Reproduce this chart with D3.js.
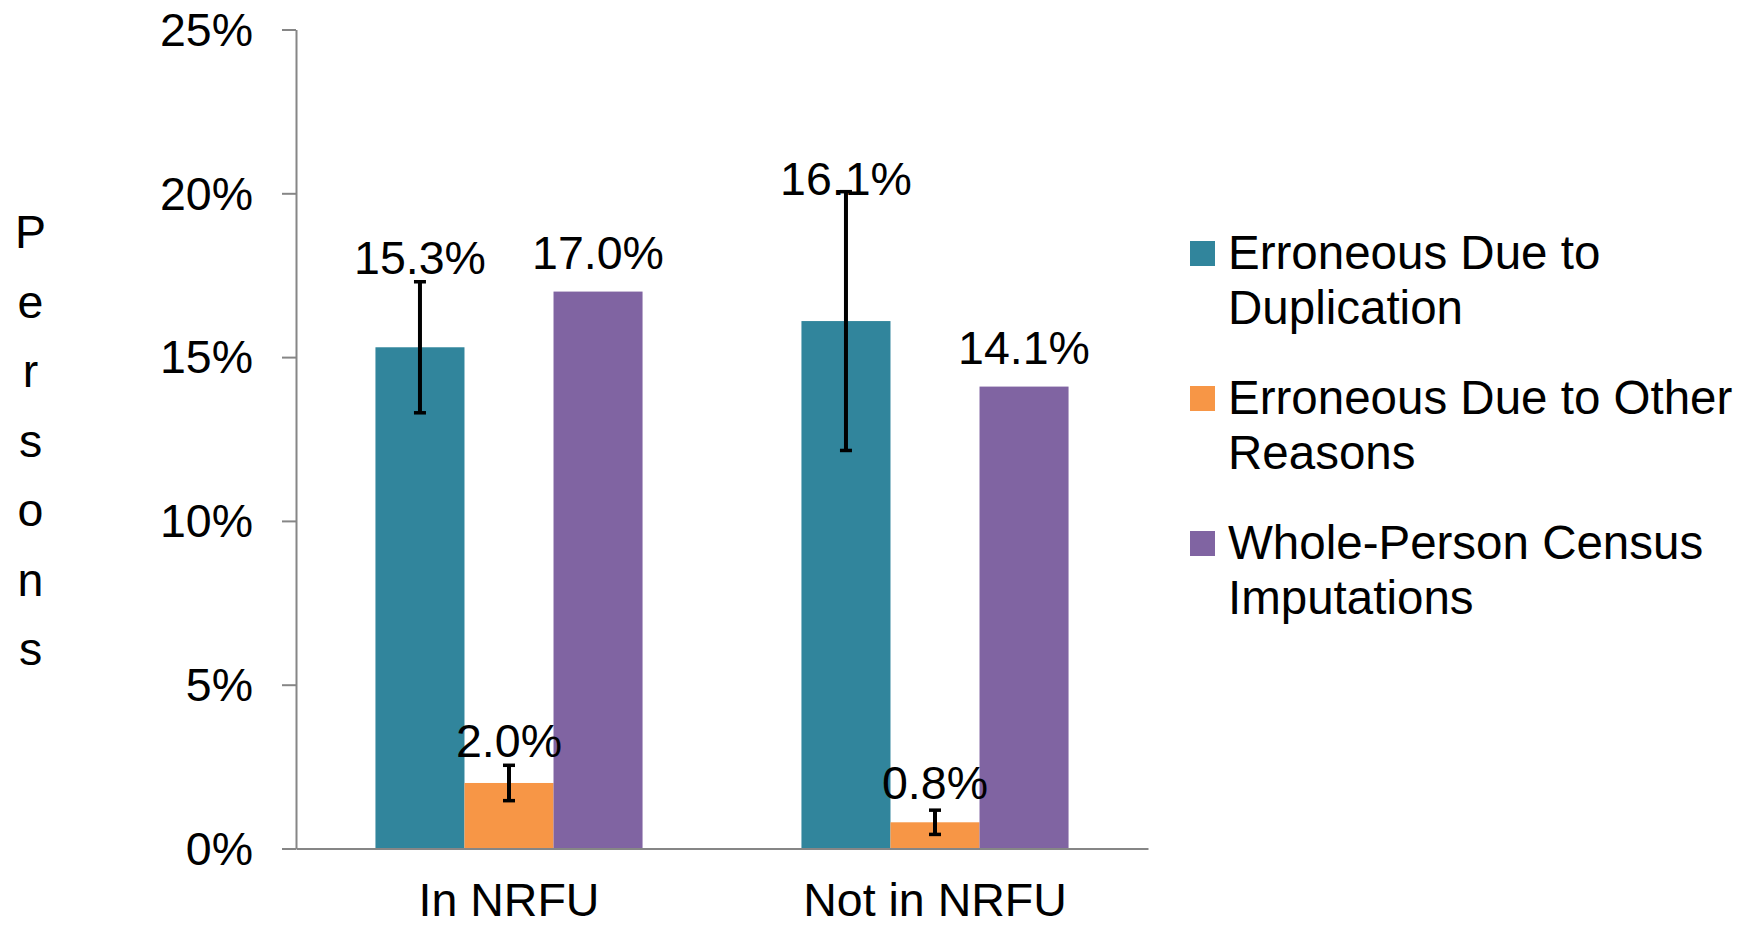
<!DOCTYPE html>
<html>
<head>
<meta charset="utf-8">
<script src="https://cdn.jsdelivr.net/npm/d3@7"></script>
<style>
  html, body { margin: 0; padding: 0; background: #ffffff; }
  svg { display: block; }
  text { font-family: Arial, "Liberation Sans", sans-serif; fill: #000; }
</style>
</head>
<body>
<svg id="chart" width="1749" height="927"></svg>
<script>
// ---- data ----
const categories = ["In NRFU", "Not in NRFU"];
const seriesNames = [
  "Erroneous Due to Duplication",
  "Erroneous Due to Other Reasons",
  "Whole-Person Census Imputations"
];
const legendLines = [
  ["Erroneous Due to", "Duplication"],
  ["Erroneous Due to Other", "Reasons"],
  ["Whole-Person Census", "Imputations"]
];
const duplicationValues = [15.3, 16.1];
const otherReasonsValues = [2.0, 0.8];
const imputationValues = [17.0, 14.1];
// error margins (± percentage points); null = no error bar
const duplicationErrors = [2.0, 3.95];
const otherReasonsErrors = [0.54, 0.37];
const imputationErrors = [null, null];
const yTicks = [0, 5, 10, 15, 20, 25];
const yTitle = "Persons";
const colors = ["#31859C", "#F79646", "#8064A2"];

// ---- layout ----
const svg = d3.select("#chart");
const plot = { left: 296, right: 1148, top: 29.5, bottom: 848.5 };
const fontSize = 46.5;
const axisColor = "#868686";

const valuesBySeries = [duplicationValues, otherReasonsValues, imputationValues];
const errorsBySeries = [duplicationErrors, otherReasonsErrors, imputationErrors];

const rows = [];
categories.forEach((c, ci) => {
  seriesNames.forEach((s, si) => {
    rows.push({ cat: c, series: s, si, value: valuesBySeries[si][ci], err: errorsBySeries[si][ci] });
  });
});

const x0 = d3.scaleBand().domain(categories)
  .range([plot.left, plot.right])
  .paddingInner(0.373).paddingOuter(0.1865);
const x1 = d3.scaleBand().domain(seriesNames).range([0, x0.bandwidth()]).padding(0);
const y = d3.scaleLinear().domain([0, 25]).range([plot.bottom, plot.top]);

// y axis
const yAxis = d3.axisLeft(y).tickValues(yTicks).tickFormat(d => d + "%")
  .tickSizeInner(14).tickSizeOuter(0).tickPadding(29);
const gy = svg.append("g").attr("transform", `translate(${plot.left},0)`).call(yAxis);
gy.selectAll("path.domain").attr("stroke", axisColor).attr("stroke-width", 2);
gy.selectAll(".tick line").attr("stroke", axisColor).attr("stroke-width", 2);
gy.selectAll(".tick text").attr("font-size", fontSize)
  .attr("font-family", "Arial, 'Liberation Sans', sans-serif").attr("fill", "#000")
  .attr("dy", "0.34em");

// bars
svg.append("g").selectAll("rect").data(rows).join("rect")
  .attr("x", d => x0(d.cat) + x1(d.series))
  .attr("y", d => y(d.value))
  .attr("width", x1.bandwidth())
  .attr("height", d => y(0) - y(d.value))
  .attr("fill", d => colors[d.si]);

// x axis
const xAxis = d3.axisBottom(x0).tickSize(0).tickPadding(0);
const gx = svg.append("g").attr("transform", `translate(0,${plot.bottom})`).call(xAxis);
gx.select("path.domain").attr("stroke", axisColor).attr("stroke-width", 2);
gx.selectAll(".tick text").attr("font-size", fontSize)
  .attr("font-family", "Arial, 'Liberation Sans', sans-serif").attr("fill", "#000")
  .attr("dy", null).attr("y", 67);

// error bars
const errRows = rows.filter(d => d.err != null);
const eg = svg.append("g").attr("stroke", "#000");
const cx = d => x0(d.cat) + x1(d.series) + x1.bandwidth() / 2;
eg.selectAll("line.v").data(errRows).join("line").attr("class", "v")
  .attr("x1", cx).attr("x2", cx)
  .attr("y1", d => y(d.value + d.err)).attr("y2", d => y(d.value - d.err))
  .attr("stroke-width", 4);
eg.selectAll("line.top").data(errRows).join("line").attr("class", "top")
  .attr("x1", d => cx(d) - 6).attr("x2", d => cx(d) + 6)
  .attr("y1", d => y(d.value + d.err)).attr("y2", d => y(d.value + d.err))
  .attr("stroke-width", 3.5);
eg.selectAll("line.bot").data(errRows).join("line").attr("class", "bot")
  .attr("x1", d => cx(d) - 6).attr("x2", d => cx(d) + 6)
  .attr("y1", d => y(d.value - d.err)).attr("y2", d => y(d.value - d.err))
  .attr("stroke-width", 3.5);

// data labels
function labelBaseline(d) {
  const base = y(d.value) - 23;
  if (d.err != null && y(d.value + d.err) - 8 < base) {
    // above the error bar, but kept just under the 20% line
    return Math.max(y(d.value + d.err) - 8, y(20) + 2);
  }
  return base;
}
svg.append("g").selectAll("text").data(rows).join("text")
  .attr("x", cx)
  .attr("y", labelBaseline)
  .attr("text-anchor", "middle")
  .attr("font-size", fontSize)
  .text(d => d.value.toFixed(1) + "%");

// y title: stacked letters
svg.append("g").selectAll("text").data(yTitle.split("")).join("text")
  .attr("x", 30.5)
  .attr("y", (d, i) => 248 + i * 69.5)
  .attr("text-anchor", "middle")
  .attr("font-size", fontSize)
  .text(d => d);

// legend
const legend = svg.append("g");
const lg = legend.selectAll("g").data(legendLines).join("g")
  .attr("transform", (d, i) => `translate(1190,${269 + i * 145})`);
lg.append("rect").attr("x", 0).attr("y", -28).attr("width", 25).attr("height", 25)
  .attr("fill", (d, i) => colors[i]);
lg.each(function (lines) {
  const t = d3.select(this).append("text").attr("x", 38).attr("y", 0).attr("font-size", 47.5);
  lines.forEach((ln, k) => {
    t.append("tspan").attr("x", 38).attr("y", k * 54.5).text(ln);
  });
});
</script>
</body>
</html>
